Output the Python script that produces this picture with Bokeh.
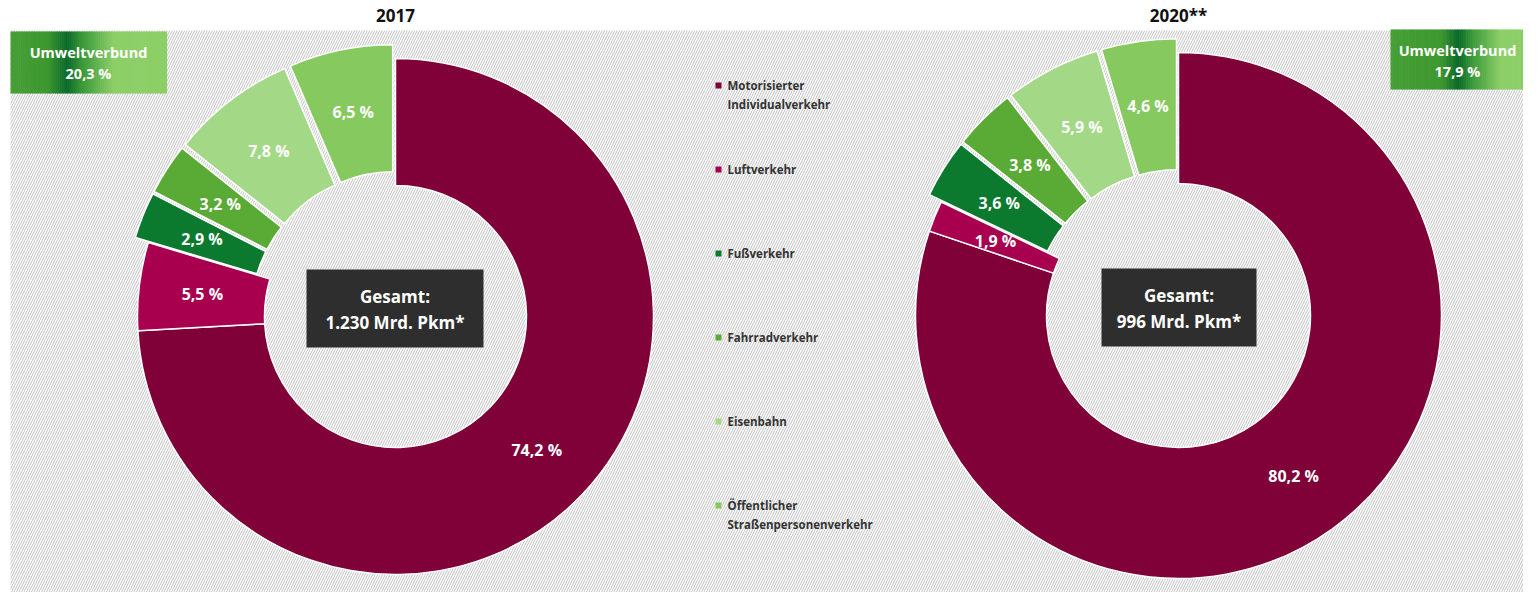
import numpy as np
from bokeh.plotting import figure
from bokeh.models import Range1d, BoxAnnotation, ColumnDataSource
from bokeh.core.properties import value
from bokeh.embed import file_html
from bokeh.resources import INLINE

# ---------------- data ----------------
categories = ["Motorisierter Individualverkehr", "Luftverkehr", "Fußverkehr",
              "Fahrradverkehr", "Eisenbahn", "Öffentlicher Straßenpersonenverkehr"]
legend_labels = ["Motorisierter\nIndividualverkehr", "Luftverkehr", "Fußverkehr",
                 "Fahrradverkehr", "Eisenbahn", "Öffentlicher\nStraßenpersonenverkehr"]
values_2017 = [74.2, 5.5, 2.9, 3.2, 7.8, 6.5]
values_2020 = [80.2, 1.9, 3.6, 3.8, 5.9, 4.6]
years = ["2017", "2020**"]
umweltverbund = ["20,3 %", "17,9 %"]
totals = ["1.230 Mrd. Pkm*", "996 Mrd. Pkm*"]
colors = ["#800038", "#a8004f", "#0b7a2e", "#5aaa36", "#a3d886", "#85c95f"]
exploded = [False, False, True, True, True, True]

FONT = value("Open Sans")
W, H = 1523, 592

p = figure(width=W, height=H, output_backend="svg", toolbar_location=None,
           x_range=Range1d(0, W), y_range=Range1d(-H, 0),
           min_border=0, x_axis_location=None, y_axis_location=None)
p.grid.visible = False
p.outline_line_color = None
p.background_fill_color = "white"
p.border_fill_color = "white"

# hatched background
bg = BoxAnnotation(left=10, right=1531, bottom=-605, top=-30, fill_color="white",
                   fill_alpha=1, line_color=None, hatch_pattern="/", hatch_color="#c0c0c0",
                   hatch_scale=5, hatch_weight=1, level="underlay")
p.add_layout(bg)


def donut(cx, cy, r_in, r_out, vals, explode=14):
    vals = np.array(vals, dtype=float)
    frac = vals / vals.sum()
    cum = np.concatenate([[0], np.cumsum(frac)])
    start = np.pi / 2 - 2 * np.pi * cum[:-1]
    end = np.pi / 2 - 2 * np.pi * cum[1:]
    mid = (start + end) / 2
    d = np.array([explode if e else 0 for e in exploded])
    xs = cx + d * np.cos(mid)
    ys = cy + d * np.sin(mid)
    src = ColumnDataSource(dict(x=xs, y=ys, s=start, e=end, c=colors))
    p.annular_wedge(x="x", y="y", inner_radius=r_in, outer_radius=r_out,
                    start_angle="s", end_angle="e", direction="clock",
                    fill_color="c", line_color="white", line_width=1.5, source=src)
    rl = (r_in + r_out) / 2
    lx = xs + rl * np.cos(mid)
    ly = ys + rl * np.sin(mid)
    labels = [f"{v:.1f}".replace(".", ",") + " %" for v in vals]
    p.text(x=lx, y=ly, text=labels, text_color="white", text_font=FONT,
           text_font_style="bold", text_font_size="16px", text_align="center",
           text_baseline="middle")


def gradient_box(x0, x1, y0, y1, dark_pos):
    stops = [(0.0, (0x46, 0xa0, 0x36)), (dark_pos - 0.12, (0x3e, 0x98, 0x30)),
             (dark_pos, (0x0b, 0x6a, 0x2a)), (dark_pos + 0.1, (0x3c, 0x9a, 0x3a)),
             (dark_pos + 0.3, (0x8c, 0xcf, 0x68)), (1.0, (0x8e, 0xd0, 0x67))]
    n = 80
    edges = np.linspace(x0, x1, n + 1)
    cols = []
    for i in range(n):
        t = (i + 0.5) / n
        for k in range(len(stops) - 1):
            if stops[k][0] <= t <= stops[k + 1][0]:
                a, ca = stops[k]
                b, cb = stops[k + 1]
                f = (t - a) / (b - a) if b > a else 0
                c = tuple(int(ca[j] + f * (cb[j] - ca[j])) for j in range(3))
                break
        cols.append("#%02x%02x%02x" % c)
    p.quad(left=edges[:-1], right=edges[1:] + 0.6, bottom=-y1, top=-y0,
           fill_color=cols, line_color=None)


# donuts
centers = [(395, -316, 131, 258), (1178, -315, 132, 263)]
for (cx, cy, ri, ro), vals in zip(centers, [values_2017, values_2020]):
    donut(cx, cy, ri, ro, vals)

# titles
p.text(x=[395, 1178], y=[-15, -15], text=years, text_font=FONT, text_font_style="bold",
       text_font_size="17px", text_color="#111111", text_align="center",
       text_baseline="middle")

# Umweltverbund boxes
gradient_box(10, 166, 31, 93, 0.36)
gradient_box(1390, 1531, 29, 89, 0.48)
p.text(x=[88, 88, 1457, 1457], y=[-52, -73, -50, -71],
       text=["Umweltverbund", umweltverbund[0], "Umweltverbund", umweltverbund[1]],
       text_font=FONT, text_font_style="bold", text_font_size="14.5px",
       text_color="white", text_align="center", text_baseline="middle")

# Gesamt boxes
p.quad(left=[306, 1101], right=[483, 1256], top=[-269, -268], bottom=[-347, -346],
       fill_color="#2e2e2e", line_color=None)
p.text(x=[394.5, 394.5, 1178.5, 1178.5], y=[-296, -322, -295, -321],
       text=["Gesamt:", totals[0], "Gesamt:", totals[1]],
       text_font=FONT, text_font_style="bold", text_font_size="17px",
       text_color="white", text_align="center", text_baseline="middle")

# legend
leg_y = -85 - 84 * np.arange(len(categories))
p.scatter(x=[718] * len(categories), y=leg_y, marker="square", size=6,
          fill_color=colors, line_color=None)
p.text(x=[727] * len(categories), y=leg_y + 8, text=legend_labels, text_font=FONT,
       text_font_style="bold", text_font_size="11.5px", text_color="#333333",
       text_align="left", text_baseline="top", text_line_height=1.3)

open("out.html", "w").write(file_html(p, INLINE))
